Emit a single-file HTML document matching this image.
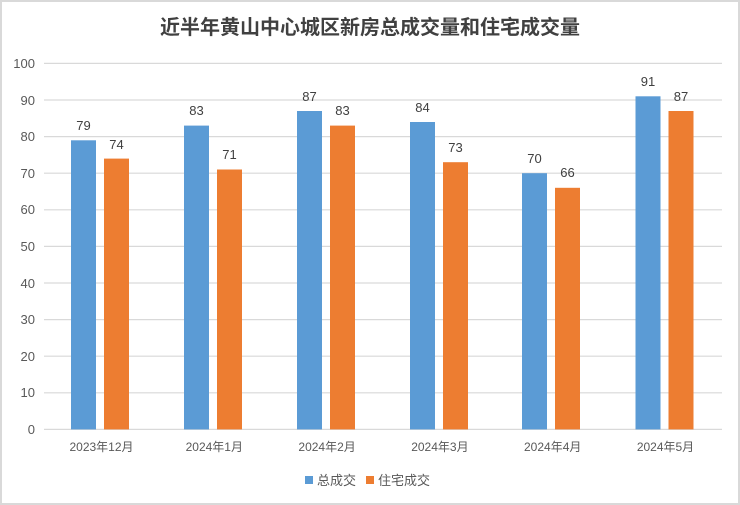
<!DOCTYPE html>
<html><head><meta charset="utf-8"><style>
body{margin:0;background:#fff}
svg{display:block}
text{font-family:"Liberation Sans","Noto Sans CJK SC",sans-serif}
</style></head><body>
<svg width="740" height="505" viewBox="0 0 740 505" xmlns="http://www.w3.org/2000/svg">
<rect x="1" y="1" width="738" height="503" fill="#fff" stroke="#d9d9d9" stroke-width="2"/>
<text x="370" y="34" text-anchor="middle" font-size="20" font-weight="bold" fill="#404040">近半年黄山中心城区新房总成交量和住宅成交量</text>
<g stroke="#d9d9d9" stroke-width="1.2">
<line x1="44" y1="63.4" x2="722" y2="63.4"/><line x1="44" y1="100" x2="722" y2="100"/>
<line x1="44" y1="136.6" x2="722" y2="136.6"/><line x1="44" y1="173.2" x2="722" y2="173.2"/>
<line x1="44" y1="209.8" x2="722" y2="209.8"/><line x1="44" y1="246.4" x2="722" y2="246.4"/>
<line x1="44" y1="283" x2="722" y2="283"/><line x1="44" y1="319.6" x2="722" y2="319.6"/>
<line x1="44" y1="356.2" x2="722" y2="356.2"/><line x1="44" y1="392.8" x2="722" y2="392.8"/>
<line x1="44" y1="429.4" x2="722" y2="429.4"/>
</g>
<g font-size="13" fill="#595959" text-anchor="end">
<text x="35" y="68">100</text><text x="35" y="105">90</text><text x="35" y="141">80</text>
<text x="35" y="178">70</text><text x="35" y="214">60</text><text x="35" y="251">50</text>
<text x="35" y="288">40</text><text x="35" y="324">30</text><text x="35" y="361">20</text>
<text x="35" y="397">10</text><text x="35" y="434">0</text>
</g>
<g fill="#5b9bd5">
<rect x="71" y="140.3" width="25" height="289.1"/>
<rect x="184" y="125.6" width="25" height="303.8"/>
<rect x="297" y="111" width="25" height="318.4"/>
<rect x="410" y="122" width="25" height="307.4"/>
<rect x="522" y="173.2" width="25" height="256.2"/>
<rect x="635.5" y="96.3" width="25" height="333.1"/>
</g>
<g fill="#ed7d31">
<rect x="104" y="158.6" width="25" height="270.8"/>
<rect x="217" y="169.5" width="25" height="259.9"/>
<rect x="330" y="125.6" width="25" height="303.8"/>
<rect x="443" y="162.2" width="25" height="267.2"/>
<rect x="555" y="187.8" width="25" height="241.6"/>
<rect x="668.5" y="111" width="25" height="318.4"/>
</g>
<g font-size="13" fill="#404040" text-anchor="middle">
<text x="83.5" y="130">79</text><text x="116.5" y="149">74</text>
<text x="196.5" y="115">83</text><text x="229.5" y="159">71</text>
<text x="309.5" y="101">87</text><text x="342.5" y="115">83</text>
<text x="422.5" y="112">84</text><text x="455.5" y="152">73</text>
<text x="534.5" y="163">70</text><text x="567.5" y="177">66</text>
<text x="648" y="86">91</text><text x="681" y="101">87</text>
</g>
<g font-size="12" fill="#595959" text-anchor="middle">
<text x="101.5" y="451">2023年12月</text><text x="214.3" y="451">2024年1月</text>
<text x="327.1" y="451">2024年2月</text><text x="439.9" y="451">2024年3月</text>
<text x="552.7" y="451">2024年4月</text><text x="665.5" y="451">2024年5月</text>
</g>
<rect x="305" y="476" width="8" height="8" fill="#5b9bd5"/>
<text x="317" y="485" font-size="13" fill="#595959">总成交</text>
<rect x="366" y="476" width="8" height="8" fill="#ed7d31"/>
<text x="378" y="485" font-size="13" fill="#595959">住宅成交</text>
</svg>
</body></html>
